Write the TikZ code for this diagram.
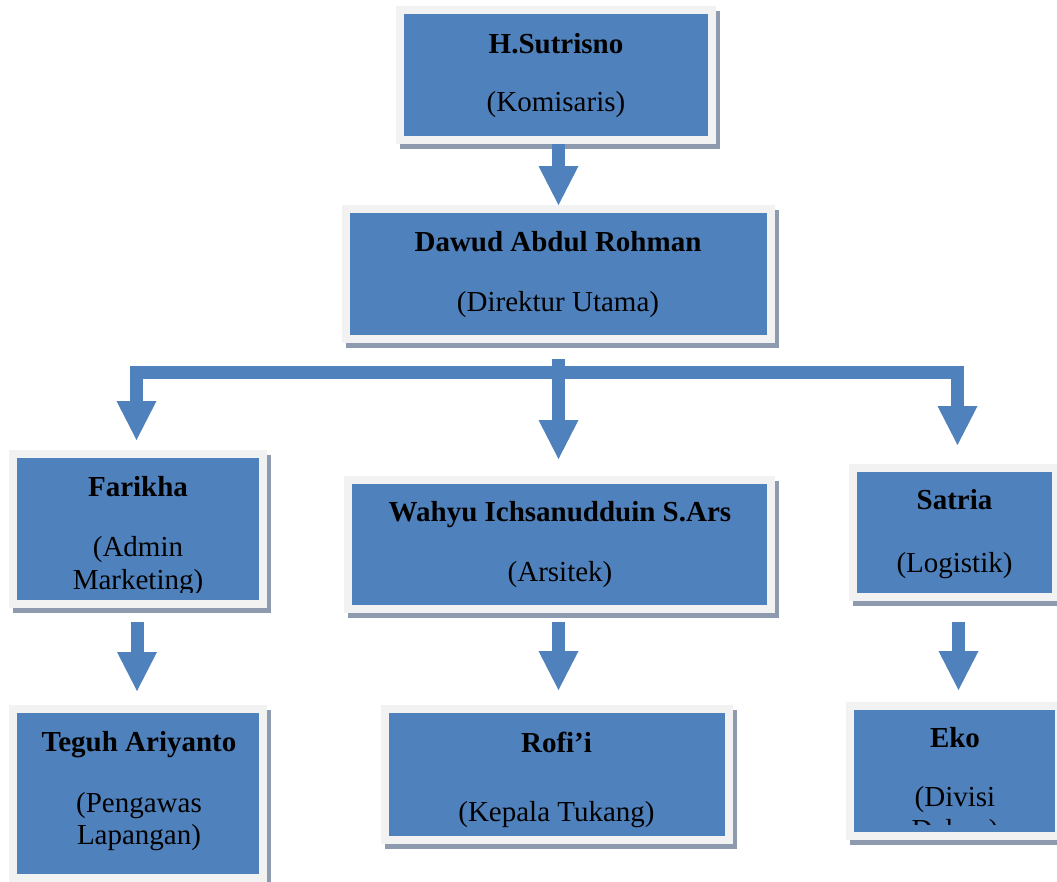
\documentclass[tikz,border=0pt]{standalone}
\usepackage{fontspec}
\setmainfont{Liberation Serif}
\usetikzlibrary{arrows.meta,shadows}
\definecolor{boxblue}{RGB}{79,129,189}
\definecolor{framec}{RGB}{242,242,242}
\definecolor{shadowc}{RGB}{142,155,175}
\begin{document}
\begin{tikzpicture}[x=1pt,y=-1pt,
  orgbox/.style={fill=framec, draw=none, inner sep=0pt, outer sep=0pt,
    drop shadow={opacity=1, fill=shadowc, shadow xshift=4pt, shadow yshift=-5pt},
    path picture={\fill[boxblue] ([xshift=8pt,yshift=-8pt]path picture bounding box.north west) rectangle ([xshift=-8pt,yshift=8pt]path picture bounding box.south east);}},
  title/.style={font=\bfseries\fontsize{29}{33}\selectfont, anchor=base, inner sep=0pt},
  sub/.style={font=\fontsize{29}{33}\selectfont, anchor=base, inner sep=0pt},
  conn/.style={draw=boxblue, line width=13pt, -{Triangle[length=39pt, width=40pt, line width=0pt]}}]
\useasboundingbox (0,0) rectangle (1057,881);
\fill[white] (0,0) rectangle (1057,881);

% boxes
\node[orgbox, minimum width=320pt, minimum height=138pt] (sut) at (556,75) {};
\node[orgbox, minimum width=433pt, minimum height=138pt] (daw) at (558.5,274) {};
\node[orgbox, minimum width=258pt, minimum height=158pt] (far) at (138,529) {};
\node[orgbox, minimum width=431pt, minimum height=137pt] (wah) at (559.5,544.5) {};
\node[orgbox, minimum width=211pt, minimum height=137pt] (sat) at (954.5,532.5) {};
\node[orgbox, minimum width=258pt, minimum height=177pt] (teg) at (138,793.5) {};
\node[orgbox, minimum width=352pt, minimum height=139pt] (rof) at (557,774.5) {};
\node[orgbox, minimum width=217pt, minimum height=138pt] (eko) at (954.5,771) {};

% texts
\node[title] (sut-t) at (556,53) {H.Sutrisno};
\node[sub] (sut-s) at (556,111) {(Komisaris)};
\node[title] (daw-t) at (558,251) {Dawud Abdul Rohman};
\node[sub] (daw-s) at (558,311) {(Direktur Utama)};
\node[title] (far-t) at (138,496) {Farikha};
\node[sub] (far-s) at (138,556) {(Admin};
\begin{scope}
  \clip (0,0) rectangle (1057,592);
  \node[sub] (far-s2) at (138,589) {Marketing)};
\end{scope}
\node[title] (wah-t) at (560,521) {Wahyu Ichsanudduin S.Ars};
\node[sub] (wah-s) at (560,581) {(Arsitek)};
\node[title] (sat-t) at (954.5,509) {Satria};
\node[sub] (sat-s) at (954.5,572) {(Logistik)};
\node[title] (teg-t) at (139,751) {Teguh Ariyanto};
\node[sub] (teg-s) at (139,812) {(Pengawas};
\node[sub] (teg-s2) at (139,844) {Lapangan)};
\node[title] (rof-t) at (556.5,752) {Rofi’i};
\node[sub] (rof-s) at (556.5,821) {(Kepala Tukang)};
\node[title] (eko-t) at (955,747) {Eko};
\node[sub] (eko-s) at (955,806) {(Divisi};
\begin{scope}
  \clip (0,0) rectangle (1057,824);
  \node[sub] (eko-s2) at (955,839) {Dalam)};
\end{scope}

% connectors
\draw[conn] (sut.south -| daw.north) -- (daw.north);
\coordinate (bus) at (558.5,372);
\draw[conn] (bus) -| ([xshift=-1.5pt,yshift=10pt]far.north);
\draw[conn] (bus) -| ([xshift=3pt,yshift=19pt]sat.north);
\draw[conn] ([yshift=-16pt]daw.south) -- ([xshift=-1pt,yshift=17pt]wah.north);
\draw[conn] ([xshift=-1pt,yshift=-14pt]far.south) -- ([xshift=-1pt,yshift=14pt]teg.north);
\draw[conn] ([xshift=-1pt,yshift=-9pt]wah.south) -- ([xshift=1.5pt,yshift=15pt]rof.north);
\draw[conn] ([xshift=4pt,yshift=-21pt]sat.south) -- ([xshift=4pt,yshift=12pt]eko.north);
\end{tikzpicture}
\end{document}
